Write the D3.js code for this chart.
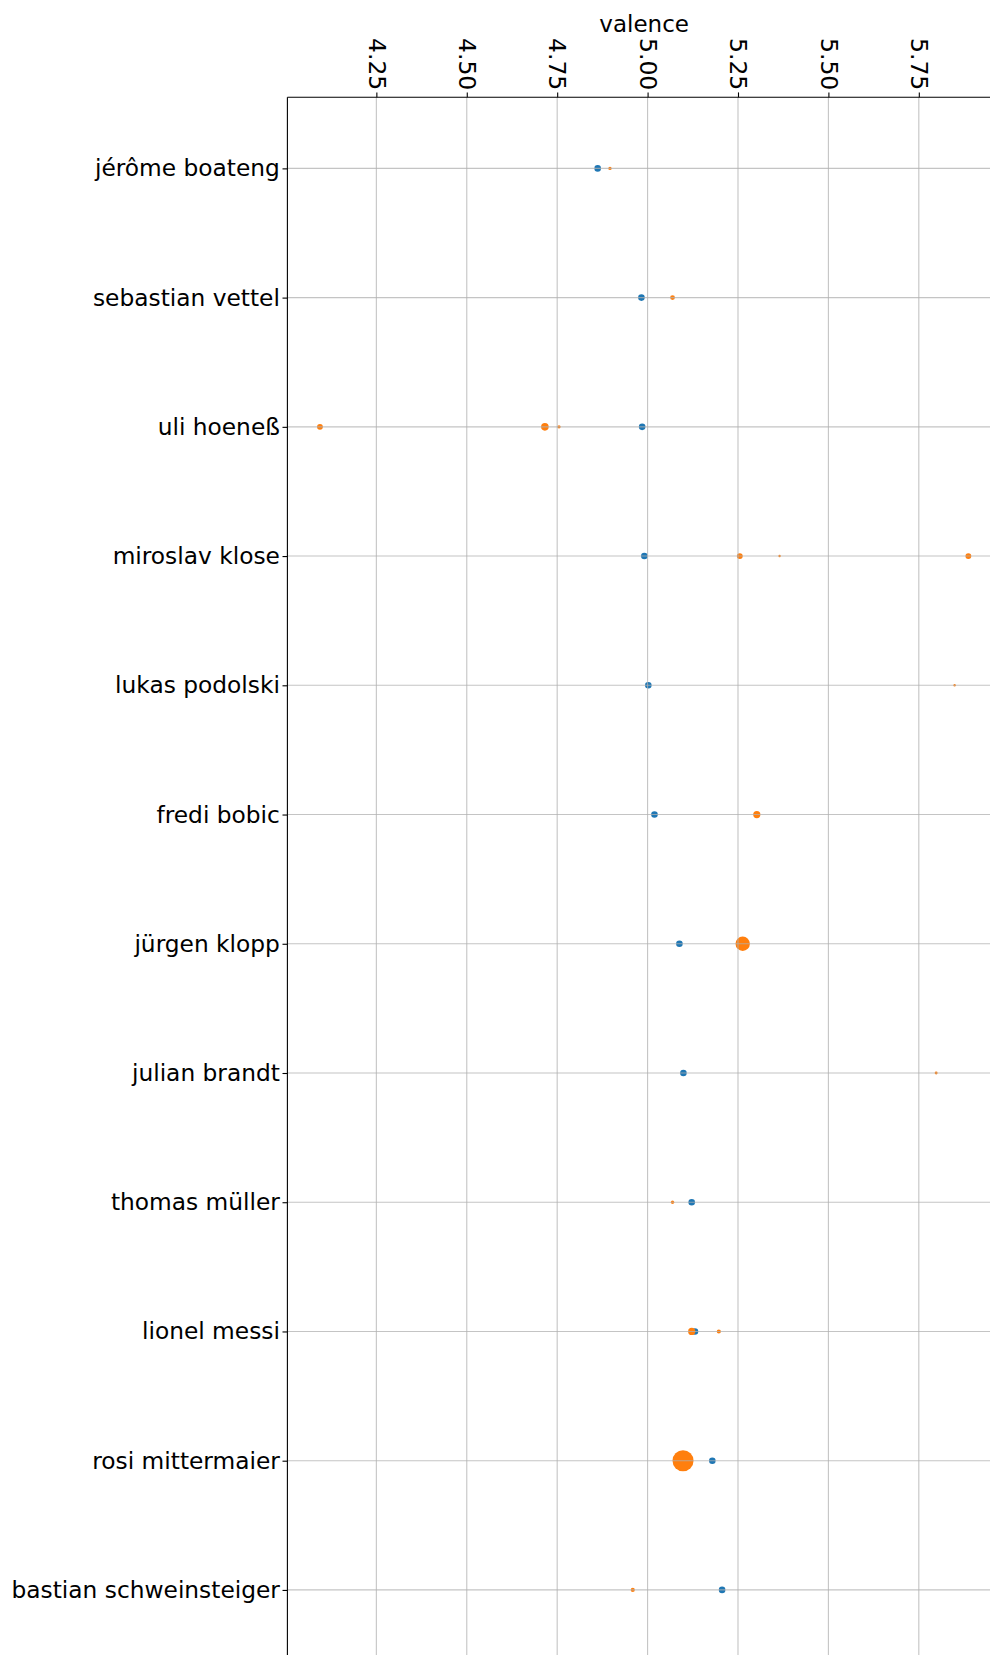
<!DOCTYPE html>
<html>
<head>
<meta charset="utf-8">
<script src="https://cdn.jsdelivr.net/npm/d3@7"></script>
<style>
  body { margin: 0; background: #fff; }
  text { font-family: "DejaVu Sans", sans-serif; }
</style>
</head>
<body>
<div id="chart"></div>
<script>
// people on the y axis, top to bottom
const people = ["jérôme boateng", "sebastian vettel", "uli hoeneß", "miroslav klose",
  "lukas podolski", "fredi bobic", "jürgen klopp", "julian brandt",
  "thomas müller", "lionel messi", "rosi mittermaier", "bastian schweinsteiger"]

// overall valence per person (blue)
const overallValence = [4.862, 4.983, 4.985, 4.991, 5.002, 5.019, 5.088, 5.099, 5.122, 5.131, 5.179, 5.206]

// per-topic valence (orange): person index, valence, count
const topicPerson = [0, 1, 2, 2, 2, 3, 3, 3, 4, 5, 6, 7, 8, 9, 9, 10, 11]
const topicValence = [4.896, 5.069, 4.094, 4.716, 4.755, 5.255, 5.365, 5.887, 5.849, 5.302, 5.263, 5.798, 5.069, 5.122, 5.197, 5.098, 4.959]
const topicCount = [2, 4, 6, 10, 2, 6, 1, 6, 1, 9, 36, 1.5, 2, 9, 3, 77, 3]

const xTicks = [4.25, 4.50, 4.75, 5.00, 5.25, 5.50, 5.75]

const W = 990, H = 1655
const margin = {top: 97.3, left: 287.4}
const plotRight = 1000.9, plotBottom = 1661

const svg = d3.select("#chart").append("svg")
    .attr("width", W)
    .attr("height", H)

const x = d3.scaleLinear()
    .domain([4.004, 5.977])
    .range([margin.left, plotRight])

const y = d3.scalePoint()
    .domain(people)
    .range([margin.top, plotBottom])
    .padding(0.55)

const r = d3.scaleSqrt().domain([0, 1]).range([0, 1.2])

svg.append("defs").append("clipPath").attr("id", "plotclip")
  .append("rect")
    .attr("x", margin.left).attr("y", margin.top)
    .attr("width", plotRight - margin.left).attr("height", plotBottom - margin.top)

const plot = svg.append("g").attr("clip-path", "url(#plotclip)")

// blue: overall valence
plot.selectAll("circle.overall")
    .data(people)
    .join("circle")
    .attr("class", "overall")
    .attr("cx", (d, i) => x(overallValence[i]))
    .attr("cy", d => y(d))
    .attr("r", 3.3)
    .attr("fill", "#1f77b4")

// orange: topic valence sized by count
plot.selectAll("circle.topic")
    .data(d3.range(topicValence.length))
    .join("circle")
    .attr("class", "topic")
    .attr("cx", i => x(topicValence[i]))
    .attr("cy", i => y(people[topicPerson[i]]))
    .attr("r", i => r(topicCount[i]))
    .attr("fill", "#ff7f0e")

// grid lines sit above the markers, like matplotlib
const grid = plot.append("g")
    .attr("stroke", "#b0b0b0")
    .attr("stroke-opacity", 0.75)
    .attr("stroke-width", 1.1)

grid.selectAll("line.v")
    .data(xTicks)
    .join("line")
    .attr("x1", d => x(d)).attr("x2", d => x(d))
    .attr("y1", margin.top).attr("y2", plotBottom)

grid.selectAll("line.h")
    .data(people)
    .join("line")
    .attr("x1", margin.left).attr("x2", plotRight)
    .attr("y1", d => y(d)).attr("y2", d => y(d))

// top axis with rotated tick labels
const xAxis = svg.append("g")
    .attr("transform", `translate(0,${margin.top})`)
    .call(d3.axisTop(x).tickValues(xTicks).tickFormat(d3.format(".2f")).tickSizeOuter(0).tickSize(4.9).tickPadding(4.9))

xAxis.select(".domain").remove()
xAxis.selectAll(".tick line").attr("stroke", "#000").attr("stroke-width", 1.1)
xAxis.selectAll(".tick text")
    .attr("font-size", 23.5)
    .attr("fill", "#000")
    .attr("transform", "rotate(90)")
    .attr("x", -7)
    .attr("y", 0)
    .attr("dy", "0.35em")
    .style("text-anchor", "end")

// left axis with names
const yAxis = svg.append("g")
    .attr("transform", `translate(${margin.left},0)`)
    .call(d3.axisLeft(y).tickSizeOuter(0).tickSize(4.9).tickPadding(2.6))

yAxis.select(".domain").remove()
yAxis.selectAll(".tick line").attr("stroke", "#000").attr("stroke-width", 1.1)
yAxis.selectAll(".tick text")
    .attr("font-size", 23.3)
    .attr("fill", "#000")

// spines
svg.append("line")
    .attr("x1", margin.left).attr("x2", margin.left)
    .attr("y1", margin.top).attr("y2", plotBottom)
    .attr("stroke", "#000").attr("stroke-width", 1.1)
svg.append("line")
    .attr("x1", margin.left).attr("x2", plotRight)
    .attr("y1", margin.top).attr("y2", margin.top)
    .attr("stroke", "#000").attr("stroke-width", 1.1)

// axis title
svg.append("text")
    .attr("x", (margin.left + plotRight) / 2)
    .attr("y", 31.5)
    .attr("font-size", 23)
    .style("text-anchor", "middle")
    .text("valence")
</script>
</body>
</html>
